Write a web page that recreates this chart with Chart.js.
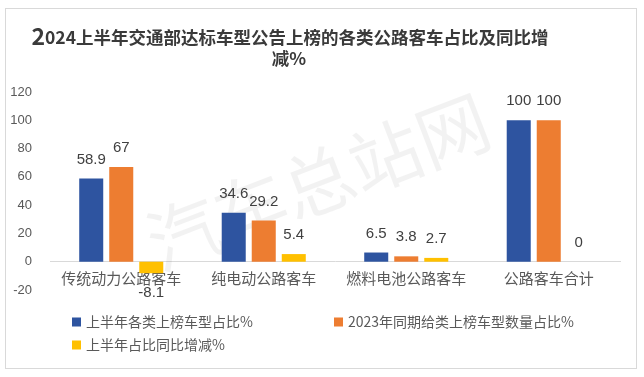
<!DOCTYPE html>
<html>
<head>
<meta charset="utf-8">
<script src="https://cdn.jsdelivr.net/npm/chart.js@4.4.1/dist/chart.umd.min.js"></script>
<style>
  html, body { margin: 0; padding: 0; background: #fff; }
  #wrap { width: 644px; height: 377px; }
</style>
</head>
<body>
<div id="wrap"><canvas id="chart" width="644" height="377"></canvas></div>
<script>
// Data
const categories = ['传统动力公路客车', '纯电动公路客车', '燃料电池公路客车', '公路客车合计']
const share2024 = [58.9, 34.6, 6.5, 100]
const share2023 = [67, 29.2, 3.8, 100]
const shareChange = [-8.1, 5.4, 2.7, 0]
const seriesNames = ['上半年各类上榜车型占比%', '2023年同期给类上榜车型数量占比%', '上半年占比同比增减%']
const titleLines = ['2024上半年交通部达标车型公告上榜的各类公路客车占比及同比增', '减%']
const yTicks = { min: -20, max: 120, step: 20 }

const colors = ['#2E54A0', '#ED7D31', '#FFC000']
const textColor = '#595959'
const cjkFont = '"Noto Sans CJK SC", "Noto Sans", sans-serif'

// frame + watermark
const backdrop = {
  id: 'backdrop',
  beforeDraw(chart) {
    const ctx = chart.ctx
    ctx.save()
    ctx.fillStyle = '#fff'
    ctx.fillRect(0, 0, chart.width, chart.height)
    ctx.strokeStyle = '#d9d9d9'
    ctx.lineWidth = 1
    ctx.strokeRect(5.5, 8.5, 631, 360)
    ctx.restore()
  },
  beforeDatasetsDraw(chart) {
    const ctx = chart.ctx
    ctx.save()
    ctx.translate(318, 182)
    ctx.rotate(-21 * Math.PI / 180)
    ctx.font = '72px ' + cjkFont
    ctx.fillStyle = 'rgba(0, 0, 0, 0.05)'
    ctx.textAlign = 'center'
    ctx.textBaseline = 'middle'
    ctx.fillText('汽车总站网', 0, 0)
    ctx.restore()
  }
}

// title with the larger leading "2"
const titlePlugin = {
  id: 'titleText',
  afterDraw(chart) {
    const ctx = chart.ctx
    ctx.save()
    ctx.fillStyle = '#3a3a3a'
    ctx.textBaseline = 'middle'
    const big = 'bold 23px ' + cjkFont
    const normal = 'bold 17.5px ' + cjkFont
    const first = titleLines[0].slice(0, 1)
    const rest = titleLines[0].slice(1)
    ctx.font = big
    const w1 = ctx.measureText(first).width
    ctx.font = normal
    const w2 = ctx.measureText(rest).width
    let x = 290 - (w1 + w2) / 2
    ctx.textAlign = 'left'
    ctx.font = big
    ctx.fillText(first, x, 36)
    ctx.font = normal
    ctx.fillText(rest, x + w1, 37)
    ctx.textAlign = 'center'
    ctx.fillText(titleLines[1], 289, 58)
    ctx.restore()
  }
}

// value labels above / below each bar
const valueLabels = {
  id: 'valueLabels',
  afterDatasetsDraw(chart) {
    const ctx = chart.ctx
    ctx.save()
    ctx.font = '15px "Liberation Sans", sans-serif'
    ctx.fillStyle = '#404040'
    ctx.textAlign = 'center'
    ctx.textBaseline = 'middle'
    chart.data.datasets.forEach((ds, i) => {
      chart.getDatasetMeta(i).data.forEach((bar, j) => {
        const v = ds.data[j]
        const y = v < 0 ? bar.y + 20 : bar.y - 19
        ctx.fillText(String(v), bar.x, y)
      })
    })
    ctx.restore()
  }
}

// two-column legend like the reference
const legendPlugin = {
  id: 'gridLegend',
  afterDraw(chart) {
    const ctx = chart.ctx
    const spots = [[72, 322], [334, 322], [72, 345]]
    ctx.save()
    ctx.font = '14px ' + cjkFont
    ctx.textBaseline = 'middle'
    ctx.textAlign = 'left'
    chart.data.datasets.forEach((ds, i) => {
      const [x, y] = spots[i]
      ctx.fillStyle = ds.backgroundColor
      ctx.fillRect(x, y - 4.5, 9, 9)
      ctx.fillStyle = textColor
      ctx.fillText(ds.label, x + 14, y)
    })
    ctx.restore()
  }
}

new Chart(document.getElementById('chart'), {
  type: 'bar',
  data: {
    labels: categories,
    datasets: [
      { label: seriesNames[0], data: share2024, backgroundColor: colors[0] },
      { label: seriesNames[1], data: share2023, backgroundColor: colors[1] },
      { label: seriesNames[2], data: shareChange, backgroundColor: colors[2] }
    ]
  },
  options: {
    responsive: false,
    devicePixelRatio: 1,
    animation: false,
    layout: { padding: { left: 8, right: 24, top: 92, bottom: 87 } },
    datasets: {
      bar: { categoryPercentage: 0.632, barPercentage: 0.8 }
    },
    plugins: {
      legend: { display: false },
      title: { display: false },
      tooltip: { enabled: false }
    },
    scales: {
      x: {
        position: { y: 0 },
        grid: { display: false },
        border: { display: true, color: '#d9d9d9', width: 1 },
        ticks: {
          color: textColor,
          font: { size: 15, family: cjkFont },
          padding: 0,
          maxRotation: 0
        }
      },
      y: {
        min: yTicks.min,
        max: yTicks.max,
        grid: { display: false },
        border: { display: false },
        afterFit(scale) { scale.width = 42 },
        ticks: {
          stepSize: yTicks.step,
          color: textColor,
          padding: 10,
          font: { size: 13, family: '"Liberation Sans", sans-serif' }
        }
      }
    }
  },
  plugins: [backdrop, valueLabels, titlePlugin, legendPlugin]
})
</script>
</body>
</html>
